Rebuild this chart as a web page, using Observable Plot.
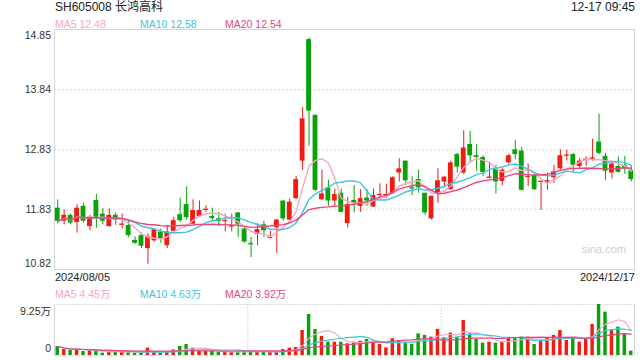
<!DOCTYPE html>
<html><head><meta charset="utf-8">
<script src="https://cdn.jsdelivr.net/npm/d3@7"></script>
<script src="https://cdn.jsdelivr.net/npm/@observablehq/plot@0.6"></script>
<style>
body{margin:0;background:#fff;font-family:"Liberation Sans",Arial,"Noto Sans CJK SC",sans-serif;}
#wrap{position:relative;width:640px;height:360px;overflow:hidden;background:#fff;}
.t{position:absolute;white-space:nowrap;line-height:1;}
#wrap svg{position:absolute;left:0;}
</style></head><body><div id="wrap"></div>
<script>
// ---- data ----
const title = "SH605008 长鸿高科";
const timeLabel = "12-17 09:45";
const dateLabels = ["2024/08/05", "2024/12/17"];
const priceTicks = [14.85, 13.84, 12.83, 11.83, 10.82];
const volTicks = [9.25, 0];
const volTickLabels = ["9.25万", "0"];
const maNames = ["MA5", "MA10", "MA20"];
const maPeriods = [5, 10, 20];
const maColors = ["#f7a6c2", "#3ec3e4", "#e8467b"];
const priceMaLabels = ["12.48", "12.58", "12.54"];
const volMaLabels = ["4.45万", "4.63万", "3.92万"];
const watermark = "sina.com";

const opens = [11.85,11.63,11.73,11.61,11.88,11.54,11.98,11.75,11.54,11.73,
  11.57,11.56,11.31,11.39,11.17,11.30,11.45,11.22,11.46,11.74,
  11.91,11.58,11.71,11.82,11.71,11.67,11.63,11.54,11.77,11.50,
  11.26,11.41,11.57,11.35,11.52,11.97,11.65,12.01,12.64,14.68,
  13.41,11.99,12.19,11.97,12.10,11.59,11.98,11.88,12.02,11.87,
  12.07,12.07,12.10,12.44,12.64,12.20,12.33,12.10,11.67,12.09,
  12.29,12.16,12.75,12.44,12.92,12.73,12.70,12.36,12.51,12.30,
  12.61,12.83,12.81,12.37,12.40,12.29,12.29,12.36,12.51,12.73,
  12.75,12.55,12.66,12.68,12.96,12.72,12.44,12.55,12.57,12.48];
const highs = [11.99,11.82,11.75,11.91,11.93,11.73,12.08,11.84,11.84,11.77,
  11.75,11.63,11.37,11.43,11.42,11.50,11.50,11.56,11.70,12.02,
  12.21,11.99,11.97,11.89,11.85,11.78,11.75,11.75,11.78,11.53,
  11.36,11.59,11.63,11.46,11.66,11.97,12.00,12.38,13.54,14.71,
  13.41,12.49,12.32,12.17,12.17,12.03,12.23,12.16,12.16,12.17,
  12.26,12.25,12.38,12.68,12.64,12.38,12.49,12.10,12.05,12.51,
  12.38,12.64,12.77,13.15,13.14,12.92,12.73,12.62,12.57,12.51,
  12.76,12.99,12.87,12.59,12.44,12.30,12.44,12.57,12.83,12.82,
  12.77,12.69,12.71,13.01,13.43,12.77,12.62,12.71,12.72,12.55];
const lows = [11.59,11.57,11.57,11.43,11.60,11.47,11.51,11.57,11.53,11.56,
  11.50,11.35,11.24,11.17,10.91,11.28,11.26,11.17,11.42,11.61,
  11.65,11.58,11.70,11.78,11.64,11.54,11.45,11.45,11.36,11.26,
  11.02,11.22,11.36,11.33,11.09,11.63,11.64,12.00,12.48,12.89,
  12.13,11.98,11.88,11.86,11.78,11.52,11.77,11.78,11.88,11.86,
  12.01,12.01,12.09,12.29,12.23,12.06,12.10,11.73,11.65,11.93,
  12.21,12.15,12.44,12.42,12.62,12.47,12.38,12.34,12.09,12.23,
  12.58,12.66,12.14,12.21,12.15,11.81,12.15,12.27,12.47,12.64,
  12.45,12.51,12.55,12.64,12.75,12.31,12.34,12.44,12.42,12.29];
const closes = [11.63,11.73,11.60,11.85,11.63,11.70,11.69,11.63,11.73,11.65,
  11.58,11.39,11.26,11.21,11.37,11.49,11.33,11.45,11.64,11.64,
  11.69,11.81,11.81,11.83,11.69,11.64,11.64,11.55,11.58,11.28,
  11.25,11.49,11.47,11.36,11.65,11.67,11.95,12.33,13.35,13.48,
  12.15,12.09,11.97,12.08,11.78,11.91,11.93,12.01,11.97,12.06,
  12.08,12.08,12.36,12.51,12.31,12.19,12.19,11.77,12.05,12.31,
  12.37,12.61,12.54,12.86,12.73,12.70,12.45,12.37,12.29,12.49,
  12.73,12.75,12.15,12.38,12.16,12.30,12.31,12.46,12.73,12.74,
  12.57,12.64,12.67,12.69,12.77,12.47,12.59,12.45,12.51,12.33];
// volume in 万
const volumes = [1.63,1.09,0.91,1.09,0.73,0.91,0.73,0.42,0.73,0.73,
  0.60,0.60,0.42,0.42,1.33,0.60,0.42,0.60,1.00,1.63,
  2.00,1.33,0.73,0.73,0.73,0.60,0.60,0.60,0.73,0.73,
  0.73,0.60,0.73,0.73,0.60,1.09,1.33,1.45,4.53,7.44,
  4.72,3.45,2.42,2.42,2.42,2.12,2.42,2.60,2.90,2.60,
  2.00,1.39,3.03,2.72,2.42,2.00,3.93,3.63,3.33,4.72,
  3.20,4.05,3.33,6.35,3.93,2.90,2.24,2.42,2.24,2.42,
  3.20,3.20,3.33,3.33,2.00,2.72,3.10,3.63,4.53,2.72,
  3.10,2.42,3.10,5.62,9.25,7.86,4.53,5.14,3.93,0.79];

// ---- build ----
const RED = "#f01c12", GREEN = "#08a20a";
const FONT = '"Liberation Sans", Arial, "Noto Sans CJK SC", sans-serif';
const candles = opens.map((o, i) => ({
  i, o, h: highs[i], l: lows[i], c: closes[i], v: volumes[i],
  col: closes[i] >= o ? RED : GREEN
}));
const N = candles.length;
const wrap = document.getElementById("wrap");

function addText(txt, style) {
  const d = document.createElement("div");
  d.className = "t";
  d.textContent = txt;
  Object.assign(d.style, style);
  wrap.appendChild(d);
  return d;
}

// price chart
const maLines = maPeriods.map((k, j) =>
  Plot.lineY(candles, Plot.windowY({k, anchor: "end", reduce: "mean"},
    {x: d => d.i + 0.5, y: "c", stroke: maColors[j], strokeWidth: 1.4, curve: "linear"})));

const axOpts = {tickSize: 0, tickPadding: 3.5, fill: "#333", label: null};

const price = Plot.plot({
  width: 640, height: 290,
  marginLeft: 54, marginRight: 6, marginTop: 29, marginBottom: 21,
  style: {fontFamily: FONT, fontSize: "10.5px", color: "#333", background: "transparent"},
  x: {type: "linear", domain: [0, N], axis: null},
  y: {domain: [priceTicks[priceTicks.length - 1], priceTicks[0]], axis: null, label: null},
  color: {type: "identity"},
  marks: [
    Plot.ruleY(priceTicks.slice(1, -1), {stroke: "#e4e4e4", strokeWidth: 1.5, strokeDasharray: "2,2"}),
    Plot.frame({stroke: "#d4d4d4"}),
    Plot.axisY({...axOpts, ticks: priceTicks.slice(1, -1), tickFormat: d => d.toFixed(2)}),
    Plot.axisY({...axOpts, ticks: [priceTicks[0]], dy: 6, tickFormat: d => d.toFixed(2)}),
    Plot.axisY({...axOpts, ticks: [priceTicks[priceTicks.length - 1]], dy: -6, tickFormat: d => d.toFixed(2)}),
    Plot.ruleX(candles, {x: d => d.i + 0.5, y1: "l", y2: "h", stroke: "col", strokeWidth: 1}),
    Plot.rect(candles, {x1: "i", x2: d => d.i + 1, y1: d => Math.min(d.o, d.c), y2: d => Math.max(d.o, d.c), fill: "col", insetLeft: 0.8, insetRight: 0.8}),
    Plot.ruleY(candles.filter(d => Math.abs(d.o - d.c) < 0.03), {y: "c", x1: "i", x2: d => d.i + 1, stroke: "col", insetLeft: 0.8, insetRight: 0.8}),
    ...maLines
  ]
});
price.style.top = "0px";
wrap.appendChild(price);

// volume chart
const volMaLines = maPeriods.map((k, j) =>
  Plot.lineY(candles, Plot.windowY({k, anchor: "end", reduce: "mean"},
    {x: d => d.i + 0.5, y: "v", stroke: maColors[j], strokeWidth: 1.2})));

const vol = Plot.plot({
  width: 640, height: 60,
  marginLeft: 54, marginRight: 6, marginTop: 4, marginBottom: 5,
  style: {fontFamily: FONT, fontSize: "10.5px", color: "#333", background: "transparent"},
  x: {type: "linear", domain: [0, N], axis: null},
  y: {domain: [volTicks[1], volTicks[0]], axis: null, label: null},
  color: {type: "identity"},
  marks: [
    Plot.ruleY(volTicks, {stroke: "#d0d0d0", strokeWidth: 1, strokeDasharray: "1.5,1.5"}),
    Plot.ruleX([N / 3, 2 * N / 3], {stroke: "#d0d0d0", strokeWidth: 1, strokeDasharray: "1.5,1.5"}),
    Plot.ruleX([0, N], {stroke: "#d4d4d4"}),
    Plot.rect(candles, {x1: "i", x2: d => d.i + 1, y1: 0, y2: "v", fill: "col", insetLeft: 1.5, insetRight: 1.5}),
    ...volMaLines,
    Plot.axisY({...axOpts, ticks: [volTicks[0]], dy: 7.5, tickFormat: d => volTickLabels[volTicks.indexOf(d)]}),
    Plot.axisY({...axOpts, ticks: [volTicks[1]], dy: -6.5, tickFormat: d => volTickLabels[volTicks.indexOf(d)]})
  ]
});
vol.style.top = "300px";
wrap.appendChild(vol);

// texts
addText(title, {left: "55px", top: "1px", fontSize: "12px", color: "#222"});
addText(timeLabel, {right: "5px", top: "1px", fontSize: "12px", color: "#222"});
const legX = [55, 140, 225];
maNames.forEach((n, j) => {
  addText(n + " " + priceMaLabels[j], {left: legX[j] + "px", top: "19px", fontSize: "10.5px", color: maColors[j]});
  addText(n + " " + volMaLabels[j], {left: legX[j] + "px", top: "289px", fontSize: "10.5px", color: maColors[j]});
});
addText(dateLabels[0], {left: "55px", top: "272px", fontSize: "11px", color: "#222"});
addText(dateLabels[1], {right: "5px", top: "272px", fontSize: "11px", color: "#222"});
addText(watermark, {left: "582px", top: "244px", fontSize: "11px", color: "#cdcdcd"});
</script></body></html>
